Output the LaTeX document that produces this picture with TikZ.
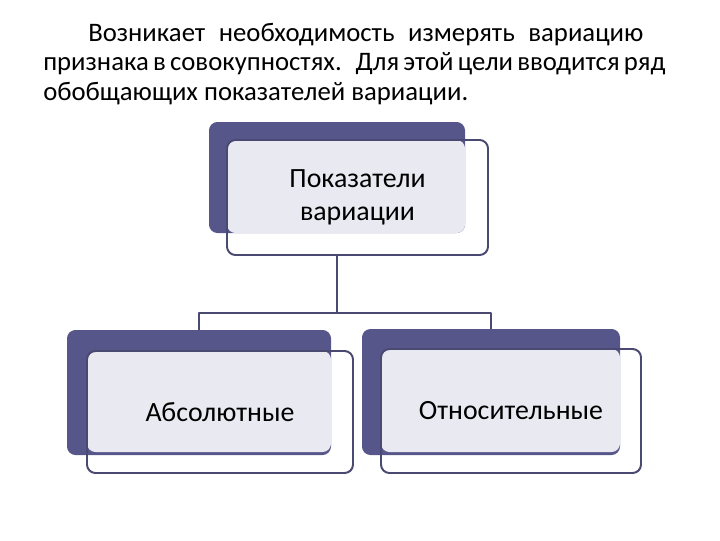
\documentclass[tikz,border=0pt]{standalone}
\usepackage{fontspec}
\setmainfont{Carlito}
\usetikzlibrary{fit,calc}
\definecolor{slate}{HTML}{57568A}
\definecolor{lav}{HTML}{E9E9F1}
\definecolor{rim}{HTML}{4A4972}

\begin{document}
\begin{tikzpicture}[x=0.025cm, y=-0.025cm, line join=round, line cap=round,
	back/.style={fill=slate, draw=none, rounded corners=6pt, inner sep=0pt},
	face/.style={fill=lav, draw=none, rounded corners=6pt, inner sep=0pt},
	rim/.style={draw=rim, line width=1.4pt, rounded corners=6pt, inner sep=0pt},
	lbl/.style={font=\fontsize{19.8}{23.4}\selectfont, align=center, text=black},
	headline/.style={anchor=base west, inner sep=0pt, font=\fontsize{19}{21}\selectfont},
	link/.style={draw=rim, line width=1.2pt, line cap=butt}]
	\useasboundingbox (0,0) rectangle (720,540);
	% heading
	\node[headline] (head1) at (88,41)
		{\makebox[13.875cm][s]{Возникает \ необходимость \ измерять \ вариацию}};
	\node[headline] (head2) at (43,70)
		{\makebox[15.55cm][s]{признака в совокупностях.\hspace{0.35cm}Для этой цели вводится ряд}};
	\node[headline] (head3) at (43,100) {обобщающих показателей вариации.};
	% top
	\node[back, fit={(209,122) (465,233)}] (topdark) {};
	\node[face, fit={(227,140) (465,233)}] (topface) {};
	\node[rim, fit={(227,140) (488,255)}] (topbox) {};
	\node[lbl] (toptext) at (topbox.center) {Показатели\\вариации};
	% left
	\node[back, fit={(67,330) (331,455)}] (absdark) {};
	\node[face, fit={(87,351) (331,452)}] (absface) {};
	\node[rim, fit={(87,351) (353,473)}] (absbox) {};
	\node[lbl] (abstext) at (absbox.center) {Абсолютные};
	% right
	\node[back, fit={(362,329) (620,455)}] (reldark) {};
	\node[face, fit={(381,349) (620,452)}] (relface) {};
	\node[rim, fit={(381,349) (641,473)}] (relbox) {};
	\node[lbl] (reltext) at (relbox.center) {Относительные};
	% connectors
	\coordinate (fork) at ($(topdark.south |- topbox.south)+(0,57)$);
	\draw[link] (topdark.south |- topbox.south) -- (fork) -| (absdark.north);
	\draw[link] (fork) -| (reldark.north);
\end{tikzpicture}
\end{document}
